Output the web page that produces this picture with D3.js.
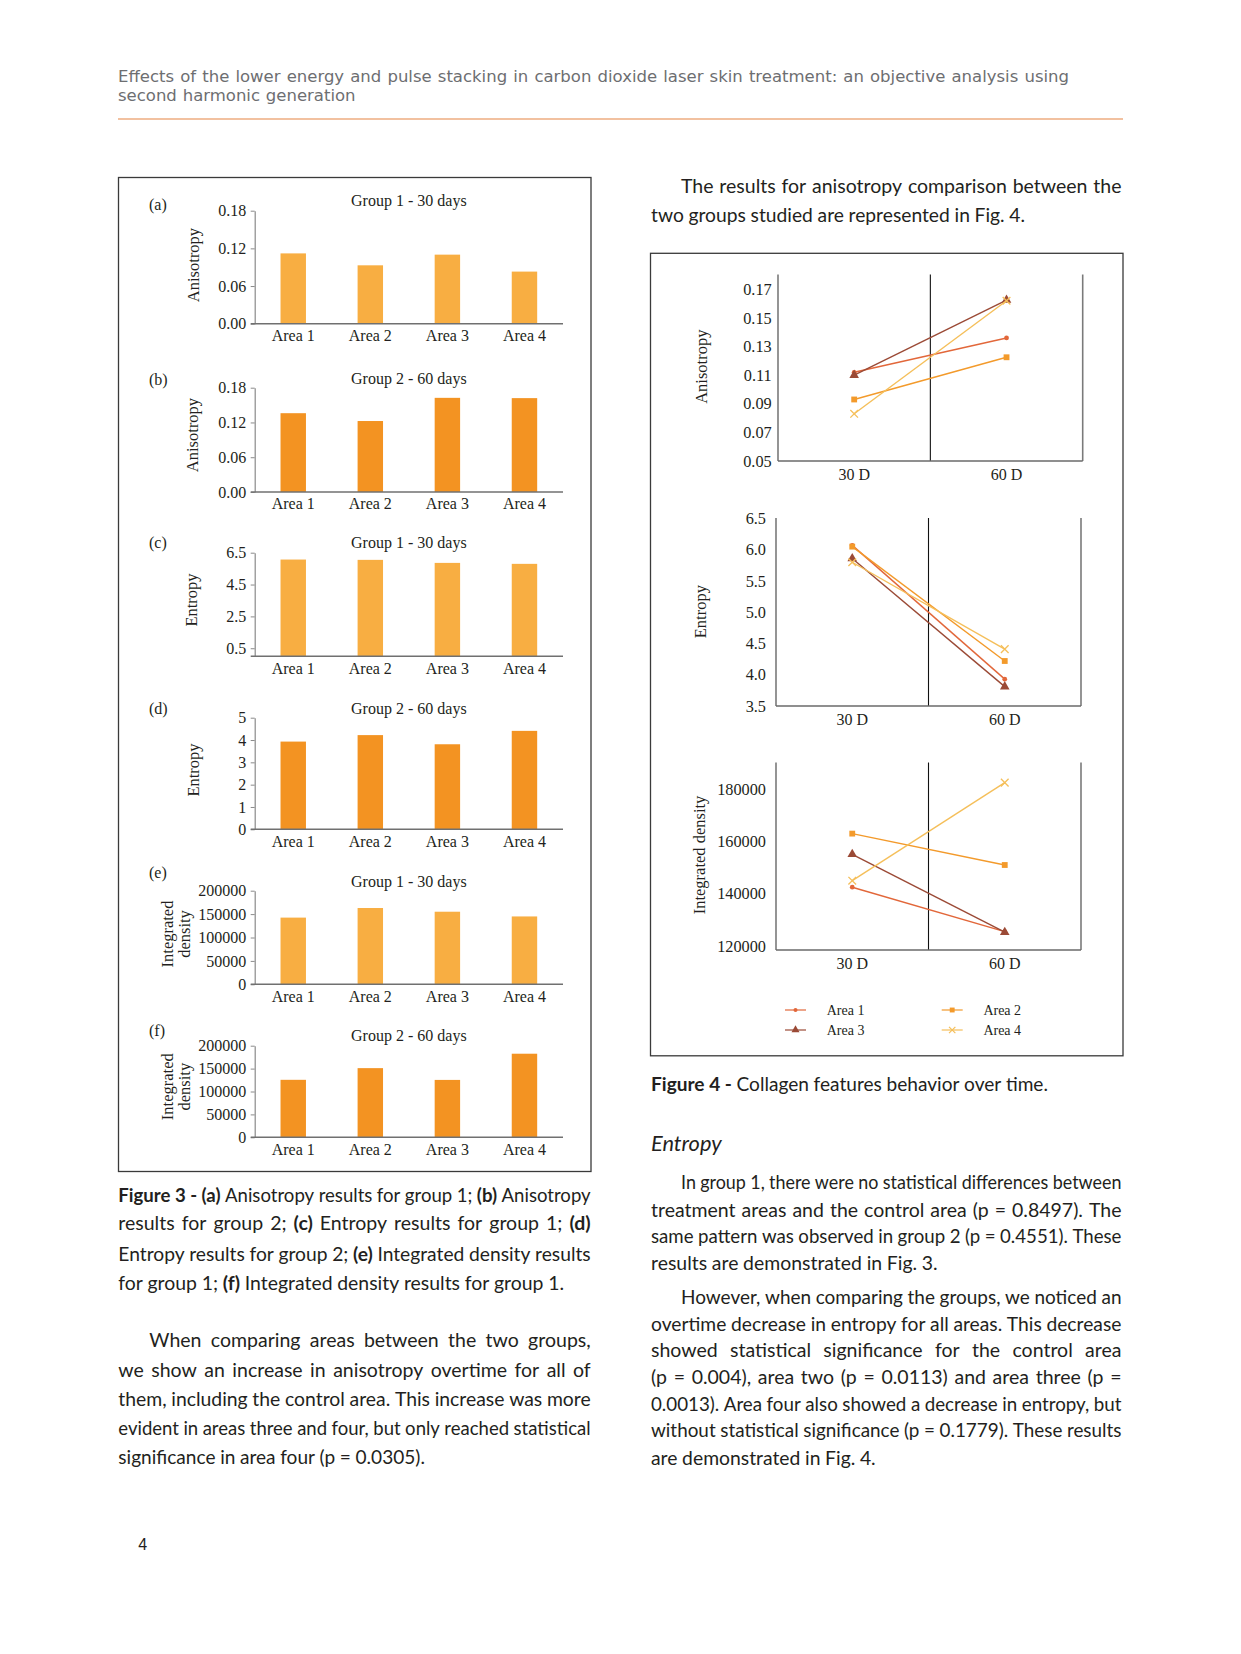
<!DOCTYPE html>
<html><head><meta charset="utf-8">
<script src="https://cdn.jsdelivr.net/npm/d3@7"></script>
<style>body{margin:0;background:#fff}svg{display:block}</style>
</head><body>
<svg id="page" width="1241" height="1654"></svg>
<script>
// ---------------- DATA ----------------
const areas = ["Area 1", "Area 2", "Area 3", "Area 4"];
const timepoints = ["30 D", "60 D"];
const anisoG1 = [0.112, 0.093, 0.110, 0.083];
const anisoG2 = [0.136, 0.1225, 0.1625, 0.162];
const entropyG1 = [6.07, 6.05, 5.86, 5.80];
const entropyG2 = [3.93, 4.22, 3.81, 4.41];
const densityG1 = [142500, 163000, 155100, 145000];
const densityG2 = [125500, 151000, 125300, 182500];
const anisoBarTicks = [0, 0.06, 0.12, 0.18];
const entropyG1BarTicks = [0.5, 2.5, 4.5, 6.5];
const entropyG2BarTicks = [0, 1, 2, 3, 4, 5];
const densityBarTicks = [0, 50000, 100000, 150000, 200000];
const anisoLineTicks = [0.05, 0.07, 0.09, 0.11, 0.13, 0.15, 0.17];
const entropyLineTicks = [3.5, 4.0, 4.5, 5.0, 5.5, 6.0, 6.5];
const densityLineTicks = [120000, 140000, 160000, 180000];

// ---------------- STYLE ----------------
const serif = "'Liberation Serif', 'Times New Roman', serif";
const sans = "Lato, 'Open Sans', sans-serif";
const ink = "#231f20";
const lightOrange = "#F8AE42";
const darkOrange = "#F39322";
const seriesColors = ["#E2673A", "#F39A2B", "#9B4A36", "#F5BF5A"];

const svg = d3.select("#page");
svg.append("rect").attr("width", 1241).attr("height", 1654).attr("fill", "#fff");

// ---------------- TEXT HELPERS ----------------
function setLine(str, x0, x1, y, o) {
  const g = svg.append("g").attr("transform", `translate(${x0},${y})`);
  const inner = g.append("g");
  let bold = false;
  const words = [];
  str.split(" ").forEach(tok => {
    let t = tok;
    if (t.startsWith("**")) { bold = true; t = t.slice(2); }
    let endB = false;
    if (t.endsWith("**")) { t = t.slice(0, -2); endB = true; }
    words.push({ t, b: bold });
    if (endB) bold = false;
  });
  const nodes = words.map(w => inner.append("text")
    .attr("font-family", o.font).attr("font-size", o.size)
    .attr("font-weight", w.b ? 700 : 400)
    .attr("font-style", o.italic ? "italic" : "normal")
    .attr("fill", o.fill || ink).text(w.t));
  const widths = nodes.map(n => n.node().getComputedTextLength());
  const sumW = d3.sum(widths);
  const spaceW = o.size * 0.24;
  const n = words.length;
  const avail = x1 - x0;
  const natural = sumW + (n - 1) * spaceW;
  let s = 1, gap = spaceW;
  if (n === 1) { s = avail / sumW; }
  else if (natural > avail) { s = avail / natural; gap = spaceW; }
  else { gap = (avail - sumW) / (n - 1); }
  let x = 0;
  nodes.forEach((nd, i) => { nd.attr("x", x); x += widths[i] + gap; });
  inner.attr("transform", `scale(${s},1)`);
}

// header
const headerLines = [
  "Effects of the lower energy and pulse stacking in carbon dioxide laser skin treatment: an objective analysis using",
  "second harmonic generation"];
const hOpt = { font: "'DejaVu Sans', Verdana, sans-serif", size: 16.5, fill: "#6d6e71" };
setLine(headerLines[0], 118, 1069, 81.5, hOpt);
setLine(headerLines[1], 118, 355.6, 101, hOpt);
svg.append("line").attr("x1", 118).attr("x2", 1123).attr("y1", 119).attr("y2", 119)
  .attr("stroke", "#F2C1A0").attr("stroke-width", 2);

const body = { font: sans, size: 19.5 };
// Figure 3 caption
const cap3 = [
  "**Figure 3 - (a)** Anisotropy results for group 1; **(b)** Anisotropy",
  "results for group 2; **(c)** Entropy results for group 1; **(d)**",
  "Entropy results for group 2; **(e)** Integrated density results",
  "for group 1; **(f)** Integrated density results for group 1."];
const cap3Y = [1201.5, 1230, 1260.5, 1290];
const cap3End = [590.7, 590.7, 590.7, 564];
cap3.forEach((l, i) => setLine(l, 118.3, cap3End[i], cap3Y[i], body));

const paraL = [
  "When comparing areas between the two groups,",
  "we show an increase in anisotropy overtime for all of",
  "them, including the control area. This increase was more",
  "evident in areas three and four, but only reached statistical",
  "significance in area four (p = 0.0305)."];
const paraLY = [1347, 1376.5, 1406, 1435, 1464];
paraL.forEach((l, i) => setLine(l, i === 0 ? 149.3 : 118.3, i === 4 ? 425 : 590.7, paraLY[i], body));

// right column
setLine("The results for anisotropy comparison between the", 681, 1121.5, 193, body);
setLine("two groups studied are represented in Fig. 4.", 651, 1025, 221.5, body);
setLine("**Figure 4 -** Collagen features behavior over time.", 651, 1048, 1090.5, body);
setLine("Entropy", 651, 721.7, 1151, { font: sans, size: 21, italic: true });

const para1 = [
  "In group 1, there were no statistical differences between",
  "treatment areas and the control area (p = 0.8497). The",
  "same pattern was observed in group 2 (p = 0.4551). These",
  "results are demonstrated in Fig. 3."];
const para1Y = [1189, 1216.5, 1243, 1270];
para1.forEach((l, i) => setLine(l, i === 0 ? 681 : 651, i === 3 ? 937.7 : 1121.5, para1Y[i], body));

const para2 = [
  "However, when comparing the groups, we noticed an",
  "overtime decrease in entropy for all areas. This decrease",
  "showed statistical significance for the control area",
  "(p = 0.004), area two (p = 0.0113) and area three (p =",
  "0.0013). Area four also showed a decrease in entropy, but",
  "without statistical significance (p = 0.1779). These results",
  "are demonstrated in Fig. 4."];
const para2Y = [1304, 1330.5, 1357, 1384, 1410.5, 1437, 1464.5];
para2.forEach((l, i) => setLine(l, i === 0 ? 681 : 651, i === 6 ? 875.7 : 1121.5, para2Y[i], body));

svg.append("text").attr("x", 142.7).attr("y", 1550).attr("text-anchor", "middle")
  .attr("font-family", "'Liberation Sans', Arial, sans-serif").attr("font-size", 16).attr("fill", ink).text("4");

// ---------------- FIGURE 3 ----------------
svg.append("rect").attr("x", 118.5).attr("y", 177.5).attr("width", 472.5).attr("height", 994)
  .attr("fill", "none").attr("stroke", "#3a3a3a").attr("stroke-width", 1.3);

const panels = [
  { key: "(a)", title: "Group 1 - 30 days", values: anisoG1, ticks: anisoBarTicks, fmt: ".2f", domain: [0, 0.18],
    yt: 210.7, yb: 323.7, color: lightOrange, ylabel: ["Anisotropy"], ylx: [193], yly: 265, titleY: 206, keyY: 210 },
  { key: "(b)", title: "Group 2 - 60 days", values: anisoG2, ticks: anisoBarTicks, fmt: ".2f", domain: [0, 0.18],
    yt: 387.7, yb: 492, color: darkOrange, ylabel: ["Anisotropy"], ylx: [192], yly: 435, titleY: 383.5, keyY: 385 },
  { key: "(c)", title: "Group 1 - 30 days", values: entropyG1, ticks: entropyG1BarTicks, fmt: ".1f", domain: [0, 6.5],
    yt: 552.7, yb: 656.2, color: lightOrange, ylabel: ["Entropy"], ylx: [191], yly: 600, titleY: 548.3, keyY: 548 },
  { key: "(d)", title: "Group 2 - 60 days", values: entropyG2, ticks: entropyG2BarTicks, fmt: "d", domain: [0, 5],
    yt: 717.7, yb: 829.3, color: darkOrange, ylabel: ["Entropy"], ylx: [193], yly: 770, titleY: 714.3, keyY: 714.3 },
  { key: "(e)", title: "Group 1 - 30 days", values: densityG1, ticks: densityBarTicks, fmt: "d", domain: [0, 200000],
    yt: 890.7, yb: 984.3, color: lightOrange, ylabel: ["Integrated", "density"], ylx: [167, 184], yly: 934, titleY: 887.3, keyY: 878.3 },
  { key: "(f)", title: "Group 2 - 60 days", values: densityG2, ticks: densityBarTicks, fmt: "d", domain: [0, 200000],
    yt: 1045.7, yb: 1137.3, color: darkOrange, ylabel: ["Integrated", "density"], ylx: [167, 184], yly: 1086.7, titleY: 1041, keyY: 1035.7 }
];
const bx0 = 254.7, bx1 = 563;

panels.forEach(p => {
  const g = svg.append("g");
  const x = d3.scaleBand().domain(areas).range([bx0, bx1]).paddingInner(0.67).paddingOuter(0.335);
  const y = d3.scaleLinear().domain(p.domain).range([p.yb, p.yt]);
  g.selectAll("rect.bar").data(p.values).join("rect").attr("class", "bar")
    .attr("x", (d, i) => x(areas[i])).attr("width", x.bandwidth())
    .attr("y", d => y(d)).attr("height", d => y(p.domain[0]) - y(d)).attr("fill", p.color);
  const ya = g.append("g").attr("transform", `translate(${bx0},0)`)
    .call(d3.axisLeft(y).tickValues(p.ticks).tickFormat(d3.format(p.fmt)).tickSize(4).tickSizeOuter(0).tickPadding(4.5));
  ya.select(".domain").attr("stroke", "#8a8a8a").attr("stroke-width", 1.2);
  ya.selectAll(".tick line").attr("stroke", "#8a8a8a");
  ya.selectAll("text").attr("font-family", serif).attr("font-size", 16).attr("fill", ink);
  const xa = g.append("g").attr("transform", `translate(0,${p.yb})`)
    .call(d3.axisBottom(x).tickSize(0).tickPadding(6));
  xa.select(".domain").remove();
  xa.selectAll("text").attr("font-family", serif).attr("font-size", 16).attr("fill", ink);
  g.append("line").attr("x1", bx0 - 4).attr("x2", bx1).attr("y1", p.yb).attr("y2", p.yb)
    .attr("stroke", "#707070").attr("stroke-width", 1.6);
  g.append("text").attr("x", (bx0 + bx1) / 2).attr("y", p.titleY).attr("text-anchor", "middle")
    .attr("font-family", serif).attr("font-size", 16).attr("fill", ink).text(p.title);
  g.append("text").attr("x", 149).attr("y", p.keyY)
    .attr("font-family", serif).attr("font-size", 16).attr("fill", ink).text(p.key);
  p.ylabel.forEach((t, i) => {
    g.append("text").attr("transform", `translate(${p.ylx[i]},${p.yly}) rotate(-90)`)
      .attr("text-anchor", "middle").attr("dominant-baseline", "central")
      .attr("font-family", serif).attr("font-size", 16.5).attr("fill", ink).text(t);
  });
});

// ---------------- FIGURE 4 ----------------
svg.append("rect").attr("x", 650.5).attr("y", 253.3).attr("width", 472.5).attr("height", 802.5)
  .attr("fill", "none").attr("stroke", "#3a3a3a").attr("stroke-width", 1.3);

const lineCharts = [
  { g1: anisoG1, g2: anisoG2, ticks: anisoLineTicks, fmt: ".2f", domain: [0.05, 0.18],
    left: 778, right: 1082.7, top: 275, bottom: 461, ypad: 6.3, ylabel: "Anisotropy", ylx: 701.7, yly: 366.7 },
  { g1: entropyG1, g2: entropyG2, ticks: entropyLineTicks, fmt: ".1f", domain: [3.5, 6.5],
    left: 776, right: 1081, top: 518.5, bottom: 706, ypad: 10, ylabel: "Entropy", ylx: 700, yly: 611.7 },
  { g1: densityG1, g2: densityG2, ticks: densityLineTicks, fmt: "d", domain: [118500, 190000],
    left: 776, right: 1081, top: 763, bottom: 950, ypad: 10, ylabel: "Integrated density", ylx: 699.3, yly: 855 }
];
const markerTypes = [d3.symbolCircle, d3.symbolSquare, d3.symbolTriangle, d3.symbolTimes || d3.symbolCross];
const markerSizes = [18, 34, 40, 40];

lineCharts.forEach(c => {
  const g = svg.append("g");
  const x = d3.scaleBand().domain(timepoints).range([c.left, c.right]);
  const y = d3.scaleLinear().domain(c.domain).range([c.bottom, c.top]);
  const cx = t => x(t) + x.bandwidth() / 2;
  const ya = g.append("g").attr("transform", `translate(${c.left},0)`)
    .call(d3.axisLeft(y).tickValues(c.ticks).tickFormat(d3.format(c.fmt)).tickSize(0).tickPadding(c.ypad));
  ya.select(".domain").remove();
  ya.selectAll("text").attr("font-family", serif).attr("font-size", 16.3).attr("fill", ink);
  const xa = g.append("g").attr("transform", `translate(0,${c.bottom})`)
    .call(d3.axisBottom(x).tickSize(0).tickPadding(8));
  xa.select(".domain").remove();
  xa.selectAll("text").attr("font-family", serif).attr("font-size", 16).attr("fill", ink);
  // frame
  const mid = x("60 D");
  g.append("line").attr("x1", mid).attr("x2", mid).attr("y1", c.top - 0.5).attr("y2", c.bottom)
    .attr("stroke", "#111").attr("stroke-width", 1.1);
  [c.left, c.right].forEach(xx => g.append("line").attr("x1", xx).attr("x2", xx)
    .attr("y1", c.top - 0.5).attr("y2", c.bottom).attr("stroke", "#7a7a7a").attr("stroke-width", 1.6));
  g.append("line").attr("x1", c.left).attr("x2", c.right).attr("y1", c.bottom).attr("y2", c.bottom)
    .attr("stroke", "#6a6a6a").attr("stroke-width", 1.6);
  // series
  const line = d3.line().x((d, j) => cx(timepoints[j])).y(d => y(d));
  areas.forEach((a, i) => {
    const vals = [c.g1[i], c.g2[i]];
    g.append("path").attr("d", line(vals)).attr("fill", "none")
      .attr("stroke", seriesColors[i]).attr("stroke-width", 1.4);
    vals.forEach((v, j) => {
      const sym = g.append("path").attr("d", d3.symbol(markerTypes[i], markerSizes[i])())
        .attr("transform", `translate(${cx(timepoints[j])},${y(v)})`);
      if (i === 3) sym.attr("fill", "none").attr("stroke", seriesColors[i]).attr("stroke-width", 1.3);
      else sym.attr("fill", seriesColors[i]);
    });
  });
  g.append("text").attr("transform", `translate(${c.ylx},${c.yly}) rotate(-90)`)
    .attr("text-anchor", "middle").attr("dominant-baseline", "central")
    .attr("font-family", serif).attr("font-size", 16.5).attr("fill", ink).text(c.ylabel);
});

// legend
const legCols = [785, 941.7], legRows = [1010, 1030];
areas.forEach((a, i) => {
  const lx = legCols[i % 2], ly = legRows[Math.floor(i / 2)];
  const g = svg.append("g").attr("transform", `translate(${lx},${ly})`);
  g.append("line").attr("x1", 0).attr("x2", 21).attr("stroke", seriesColors[i]).attr("stroke-width", 1.4).attr("opacity", 0.85);
  const sym = g.append("path").attr("d", d3.symbol(markerTypes[i], markerSizes[i] * 0.7)()).attr("transform", "translate(10.5,0)");
  if (i === 3) sym.attr("fill", "none").attr("stroke", seriesColors[i]).attr("stroke-width", 1.2);
  else sym.attr("fill", seriesColors[i]);
  g.append("text").attr("x", 41.7).attr("y", 4.8).attr("font-family", serif).attr("font-size", 14)
    .attr("fill", ink).text(a);
});
</script>
</body></html>
